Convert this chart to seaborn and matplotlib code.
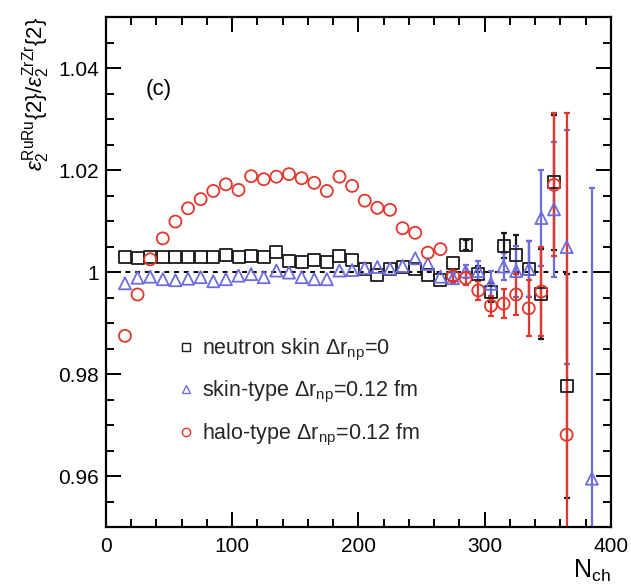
import numpy as np
import matplotlib
matplotlib.use("Agg")
import matplotlib.pyplot as plt
from matplotlib.lines import Line2D
from matplotlib.ticker import MultipleLocator, FormatStrFormatter
import seaborn as sns

# ---------------- data ----------------
n_ch = [15, 25, 35, 45, 55, 65, 75, 85, 95, 105, 115, 125, 135, 145, 155, 165, 175, 185,
        195, 205, 215, 225, 235, 245, 255, 265, 275, 285, 295, 305, 315, 325, 335, 345, 355, 365]
n_ch_skin_type = n_ch + [385]

ratio_nskin0 = [1.0030, 1.0028, 1.0030, 1.0029, 1.0030, 1.0029, 1.0030, 1.0029, 1.0033, 1.0029,
                1.0031, 1.0030, 1.0039, 1.0022, 1.0019, 1.0024, 1.0019, 1.0032, 1.0023, 1.0006,
                0.9995, 1.0006, 1.0009, 1.0006, 0.9995, 0.9984, 1.0018, 1.0053, 0.9997, 0.9960,
                1.0052, 1.0034, 1.0006, 0.9957, 1.0176, 0.9777]
err_nskin0 = [0.0002, 0.0002, 0.0002, 0.0002, 0.0002, 0.0002, 0.0002, 0.0002, 0.0002, 0.0002,
              0.0002, 0.0002, 0.0002, 0.0002, 0.0002, 0.0002, 0.0003, 0.0003, 0.0003, 0.0003,
              0.0003, 0.0004, 0.0004, 0.0005, 0.0006, 0.0007, 0.0008, 0.0010, 0.0014, 0.0019,
              0.0024, 0.0038, 0.0055, 0.0088, 0.0132, 0.0220]

ratio_skin_type = [0.9978, 0.9989, 0.9991, 0.9986, 0.9984, 0.9987, 0.9990, 0.9982, 0.9986, 0.9993,
                   0.9996, 0.9990, 1.0003, 0.9999, 0.9990, 0.9986, 0.9986, 1.0003, 1.0004, 1.0008,
                   1.0010, 1.0007, 1.0012, 1.0027, 1.0016, 0.9991, 0.9988, 1.0001, 1.0002, 0.9977,
                   1.0011, 1.0002, 1.0006, 1.0106, 1.0123, 1.0049, 0.9595]
err_skin_type = [0.0002, 0.0002, 0.0002, 0.0002, 0.0002, 0.0002, 0.0002, 0.0002, 0.0002, 0.0002,
                 0.0002, 0.0002, 0.0002, 0.0002, 0.0002, 0.0002, 0.0003, 0.0003, 0.0003, 0.0003,
                 0.0004, 0.0004, 0.0005, 0.0008, 0.0008, 0.0009, 0.0010, 0.0012, 0.0020, 0.0025,
                 0.0026, 0.0050, 0.0055, 0.0095, 0.0132, 0.0230, 0.0570]

ratio_halo_type = [0.9875, 0.9956, 1.0025, 1.0066, 1.0099, 1.0125, 1.0143, 1.0159, 1.0172, 1.0161,
                   1.0188, 1.0182, 1.0187, 1.0192, 1.0184, 1.0175, 1.0159, 1.0187, 1.0169, 1.0140,
                   1.0126, 1.0122, 1.0086, 1.0077, 1.0038, 1.0045, 0.9992, 0.9988, 0.9964, 0.9934,
                   0.9938, 0.9956, 0.9929, 0.9962, 1.0171, 0.9681]
err_halo_type = [0.0002, 0.0002, 0.0002, 0.0002, 0.0002, 0.0002, 0.0002, 0.0002, 0.0002, 0.0002,
                 0.0002, 0.0002, 0.0002, 0.0002, 0.0002, 0.0002, 0.0003, 0.0003, 0.0003, 0.0003,
                 0.0004, 0.0004, 0.0005, 0.0006, 0.0007, 0.0008, 0.0010, 0.0013, 0.0018, 0.0020,
                 0.0028, 0.0040, 0.0055, 0.0088, 0.0140, 0.0630]

labels = [r"neutron skin $\Delta\mathrm{r}_{\mathrm{np}}$=0",
          r"skin-type $\Delta\mathrm{r}_{\mathrm{np}}$=0.12 fm",
          r"halo-type $\Delta\mathrm{r}_{\mathrm{np}}$=0.12 fm"]
x_ticks = [0, 100, 200, 300, 400]
y_ticks = [0.96, 0.98, 1.00, 1.02, 1.04]

# ---------------- style ----------------
sns.set_theme(style="ticks")
plt.rcParams["font.family"] = ["Liberation Sans", "DejaVu Sans"]
plt.rcParams["mathtext.fontset"] = "custom"
plt.rcParams["mathtext.rm"] = "Liberation Sans"
plt.rcParams["mathtext.it"] = "Liberation Sans:italic"
plt.rcParams["mathtext.bf"] = "Liberation Sans:bold"

BLACK = "#1a1a1a"
BLUE = "#6c6cdc"
RED = "#e4372c"

fig = plt.figure(figsize=(6.31, 5.87), dpi=100)
ax = fig.add_axes([0.168, 0.102, 0.800, 0.869])

series = [
    (n_ch, ratio_nskin0, err_nskin0, "s", BLACK),
    (n_ch_skin_type, ratio_skin_type, err_skin_type, "^", BLUE),
    (n_ch, ratio_halo_type, err_halo_type, "o", RED),
]

ax.axhline(1.0, color="black", lw=1.4, ls=(0, (2.5, 2.5)), zorder=1)

# error bars shorter than the marker half-size are hidden by the marker (ROOT style)
for x, y, e, m, c in series:
    x_a, y_a, e_a = np.asarray(x), np.asarray(y), np.asarray(e)
    vis = e_a > 0.0009
    ax.errorbar(x_a[vis], y_a[vis], yerr=e_a[vis], fmt="none", ecolor=c, elinewidth=1.6,
                capsize=2.2, capthick=1.6, zorder=2)
for x, y, e, m, c in series:
    sns.scatterplot(x=x, y=y, marker=m, s=75, facecolors="none", edgecolor=c,
                    linewidth=1.3, ax=ax, zorder=3, legend=False)

ax.set_xlim(0, 400)
ax.set_ylim(0.95, 1.05)
ax.set_xticks(x_ticks)
ax.set_yticks(y_ticks)
ax.xaxis.set_minor_locator(MultipleLocator(20))
ax.yaxis.set_minor_locator(MultipleLocator(0.005))
ax.yaxis.set_major_formatter(FormatStrFormatter("%g"))
ax.xaxis.set_major_formatter(FormatStrFormatter("%g"))
ax.tick_params(which="both", direction="in", top=True, right=True, width=1.4,
               color="black", labelsize=15, labelcolor="black")
ax.tick_params(which="major", length=11, pad=5)
ax.tick_params(axis="x", which="major", pad=7)
ax.tick_params(which="minor", length=6)
for sp in ax.spines.values():
    sp.set_visible(True)
    sp.set_linewidth(1.6)
    sp.set_color("black")

ax.set_ylabel(r"$\epsilon_{2}^{\mathrm{RuRu}}\{2\}/\epsilon_{2}^{\mathrm{ZrZr}}\{2\}$",
              fontsize=16, loc="top", color="black")
ax.yaxis.set_label_coords(-0.107, 1.0)
ax.set_xlabel(r"$\mathrm{N}_{\mathrm{ch}}$", fontsize=18, loc="right", color="black")
ax.xaxis.set_label_coords(1.0, -0.06)
ax.xaxis.label.set_va("top")

ax.text(31, 1.0357, "(c)", fontsize=16, va="center", ha="left", color="black")

handles = [Line2D([], [], ls="none", marker=m, mfc="none", mec=c, mew=1.0, ms=6)
           for (_, _, _, m, c) in series]
ax.legend(handles, labels, loc="upper left", bbox_to_anchor=(0.1446, 0.3725),
          frameon=False, fontsize=15.5, handlelength=0.65, handletextpad=0.4,
          labelspacing=0.75, borderpad=0, borderaxespad=0)

fig.savefig("out.png", dpi=100)
